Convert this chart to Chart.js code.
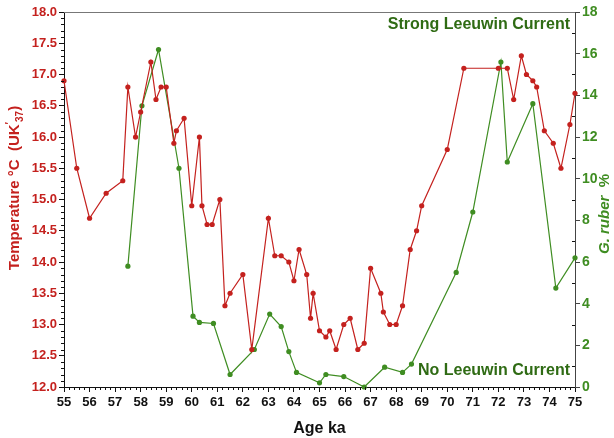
<!DOCTYPE html>
<html>
<head>
<meta charset="utf-8">
<script src="https://cdn.jsdelivr.net/npm/chart.js@4"></script>
<style>
  body { margin: 0; background: #fff; }
  #wrap { width: 614px; height: 438px; }
</style>
</head>
<body>
<div id="wrap"><canvas id="chart" width="614" height="438"></canvas></div>
<script>
// Alkenone temperature record (age in ka)
const tempAge = [55.0, 55.5, 56.0, 56.65, 57.3, 57.5, 57.8, 58.0, 58.4, 58.6, 58.8, 59.0, 59.3, 59.4, 59.7,
  60.0, 60.3, 60.4, 60.6, 60.8, 61.1, 61.3, 61.5, 62.0, 62.35, 63.0, 63.25, 63.5, 63.8, 64.0, 64.2, 64.5,
  64.65, 64.75, 65.0, 65.25, 65.4, 65.65, 65.95, 66.2, 66.5, 66.75, 67.0, 67.4, 67.5, 67.75, 68.0, 68.25,
  68.55, 68.8, 69.0, 70.0, 70.65, 72.0, 72.35, 72.6, 72.9, 73.1, 73.35, 73.5, 73.8, 74.15, 74.45, 74.8, 75.0];
const temp = [16.9, 15.5, 14.7, 15.1, 15.3, 16.8, 16.0, 16.4, 17.2, 16.6, 16.8, 16.8, 15.9, 16.1, 16.3,
  14.9, 16.0, 14.9, 14.6, 14.6, 15.0, 13.3, 13.5, 13.8, 12.6, 14.7, 14.1, 14.1, 14.0, 13.7, 14.2, 13.8,
  13.1, 13.5, 12.9, 12.8, 12.9, 12.6, 13.0, 13.1, 12.6, 12.7, 13.9, 13.5, 13.2, 13.0, 13.0, 13.3,
  14.2, 14.5, 14.9, 15.8, 17.1, 17.1, 17.1, 16.6, 17.3, 17.0, 16.9, 16.8, 16.1, 15.9, 15.5, 16.2, 16.7];

// G. ruber abundance (%)
const ruberAge = [57.5, 58.05, 58.7, 59.5, 60.05, 60.3, 60.85, 61.5, 62.45, 63.05, 63.5, 63.8, 64.1, 65.0,
  65.25, 65.95, 66.75, 67.55, 68.25, 68.6, 70.35, 71.0, 72.1, 72.35, 73.35, 74.25, 75.0];
const ruber = [5.8, 13.5, 16.2, 10.5, 3.4, 3.1, 3.05, 0.6, 1.8, 3.5, 2.9, 1.7, 0.7, 0.2,
  0.6, 0.5, 0.0, 0.95, 0.7, 1.1, 5.5, 8.4, 15.6, 10.8, 13.6, 4.75, 6.2];

const RED = '#c4211e';
const GREEN_LINE = '#3f8d22';
const GREEN_TEXT = '#2f6b14';
const FONT = '"Liberation Sans", Arial, sans-serif';

const toPoints = (xs, ys) => xs.map((x, i) => ({ x: x, y: ys[i] }));

// minor ticks, top frame line, axis titles and the two notes
const extras = {
  id: 'extras',
  afterDraw(chart) {
    const ctx = chart.ctx;
    const { left, right, top, bottom } = chart.chartArea;
    const sx = chart.scales.x, sy = chart.scales.y, sr = chart.scales.y1;
    ctx.save();

    ctx.strokeStyle = '#777';
    ctx.lineWidth = 1;
    ctx.beginPath();
    ctx.moveTo(left, top + 0.5);
    ctx.lineTo(right, top + 0.5);
    ctx.stroke();

    ctx.strokeStyle = '#111';
    ctx.beginPath();
    for (let i = 0; i <= 100; i++) {
      if (i % 5 === 0) continue;
      const px = Math.round(sx.getPixelForValue(55 + i * 0.2)) + 0.5;
      ctx.moveTo(px, bottom); ctx.lineTo(px, bottom + 3);
    }
    for (let i = 0; i <= 60; i++) {
      if (i % 5 === 0) continue;
      const py = Math.round(sy.getPixelForValue(12 + i * 0.1)) + 0.5;
      ctx.moveTo(left - 3, py); ctx.lineTo(left, py);
    }
    for (let v = 1; v < 18; v += 2) {
      const py = Math.round(sr.getPixelForValue(v)) + 0.5;
      ctx.moveTo(right - 3, py); ctx.lineTo(right, py);
    }
    ctx.stroke();

    // left title: Temperature °C (UK'37)
    ctx.save();
    ctx.translate(15, 188);
    ctx.rotate(-Math.PI / 2);
    ctx.fillStyle = RED;
    ctx.textBaseline = 'middle';
    const big = 'bold 15px ' + FONT, small = 'bold 10px ' + FONT;
    const parts = [
      ['Temperature \u00B0C  (UK', big, 0],
      ['\u2032', small, -5],
      ['37', small, 5],
      [')', big, 0]
    ];
    let total = 0;
    parts.forEach(p => { ctx.font = p[1]; total += ctx.measureText(p[0]).width; });
    let cx = -total / 2;
    parts.forEach(p => {
      ctx.font = p[1];
      ctx.fillText(p[0], cx, p[2]);
      cx += ctx.measureText(p[0]).width;
    });
    ctx.restore();

    // right title: G. ruber %
    ctx.save();
    ctx.translate(605, 214);
    ctx.rotate(-Math.PI / 2);
    ctx.fillStyle = GREEN_LINE;
    ctx.textBaseline = 'middle';
    const rParts = [['G. ruber', 'italic bold 15px ' + FONT], ['  %', 'bold 15px ' + FONT]];
    let rTotal = 0;
    rParts.forEach(p => { ctx.font = p[1]; rTotal += ctx.measureText(p[0]).width; });
    let rx = -rTotal / 2;
    rParts.forEach(p => {
      ctx.font = p[1];
      ctx.fillText(p[0], rx, 0);
      rx += ctx.measureText(p[0]).width;
    });
    ctx.restore();

    // notes
    ctx.fillStyle = GREEN_TEXT;
    ctx.font = 'bold 16px ' + FONT;
    ctx.textAlign = 'right';
    ctx.textBaseline = 'middle';
    ctx.fillText('Strong Leeuwin Current', right - 5, 25);
    ctx.fillText('No Leeuwin Current', right - 5, 371);

    ctx.restore();
  }
};

new Chart(document.getElementById('chart'), {
  type: 'line',
  data: {
    datasets: [
      {
        label: 'Temperature',
        data: toPoints(tempAge, temp),
        yAxisID: 'y',
        borderColor: RED,
        backgroundColor: RED,
        borderWidth: 1.2,
        pointRadius: 2.6,
        pointBorderWidth: 0,
        tension: 0,
        clip: false
      },
      {
        label: 'G. ruber',
        data: toPoints(ruberAge, ruber),
        yAxisID: 'y1',
        borderColor: GREEN_LINE,
        backgroundColor: GREEN_LINE,
        borderWidth: 1.2,
        pointRadius: 2.6,
        pointBorderWidth: 0,
        tension: 0,
        clip: false
      }
    ]
  },
  options: {
    responsive: false,
    animation: false,
    layout: { padding: { top: 12, left: 0, right: 0, bottom: 0 } },
    plugins: { legend: { display: false }, tooltip: { enabled: false } },
    scales: {
      x: {
        type: 'linear',
        min: 55, max: 75,
        afterFit: s => { s.height = 51; },
        border: { color: '#111', width: 1 },
        grid: { drawOnChartArea: false, tickLength: 5, color: '#111' },
        ticks: {
          stepSize: 1,
          padding: 3,
          color: '#111',
          font: { family: FONT, size: 13, weight: 'bold' }
        },
        title: {
          display: true,
          text: 'Age ka',
          color: '#111',
          padding: { top: 6, bottom: 0 },
          font: { family: FONT, size: 16, weight: 'bold' }
        }
      },
      y: {
        position: 'left',
        min: 12, max: 18,
        afterFit: s => { s.width = 64; },
        border: { color: '#111', width: 1 },
        grid: { drawOnChartArea: false, tickLength: 5, color: '#111' },
        ticks: {
          stepSize: 0.5,
          padding: 2,
          color: RED,
          callback: v => v.toFixed(1),
          font: { family: FONT, size: 13, weight: 'bold' }
        }
      },
      y1: {
        position: 'right',
        min: 0, max: 18,
        afterFit: s => { s.width = 39; },
        border: { color: '#444', width: 1 },
        grid: { drawOnChartArea: false, tickLength: 5, color: '#444' },
        ticks: {
          stepSize: 2,
          padding: 2,
          color: GREEN_LINE,
          font: { family: FONT, size: 14, weight: 'bold' }
        }
      }
    }
  },
  plugins: [extras]
});
</script>
</body>
</html>
